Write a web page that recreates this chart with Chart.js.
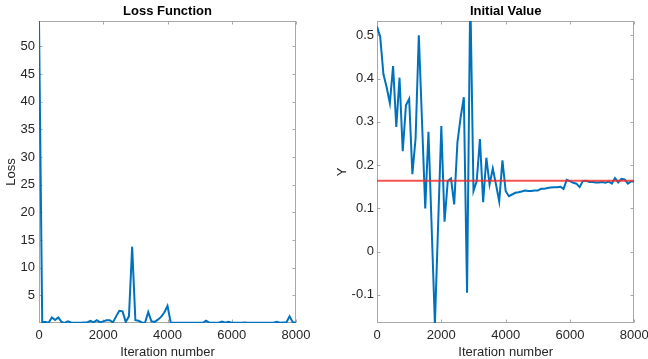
<!DOCTYPE html>
<html>
<head>
<meta charset="utf-8">
<script src="https://cdn.jsdelivr.net/npm/chart.js@4.4.0/dist/chart.umd.min.js"></script>
<style>
  html, body { margin: 0; padding: 0; background: #fff; overflow: hidden; width: 648px; height: 359px; }
  #Loss { position: absolute; left: 0; top: 0; }
  #Init { position: absolute; left: 324px; top: 0; }
</style>
</head>
<body>
<canvas id="Loss" width="324" height="359"></canvas>
<canvas id="Init" width="340" height="359"></canvas>
<script>
var iterations = [0, 100, 200, 300, 400, 500, 600, 700, 800, 900,
  1000, 1100, 1200, 1300, 1400, 1500, 1600, 1700, 1800, 1900,
  2000, 2100, 2200, 2300, 2400, 2500, 2600, 2700, 2800, 2900,
  3000, 3100, 3200, 3300, 3400, 3500, 3600, 3700, 3800, 3900,
  4000, 4100, 4200, 4300, 4400, 4500, 4600, 4700, 4800, 4900,
  5000, 5100, 5200, 5300, 5400, 5500, 5600, 5700, 5800, 5900,
  6000, 6100, 6200, 6300, 6400, 6500, 6600, 6700, 6800, 6900,
  7000, 7100, 7200, 7300, 7400, 7500, 7600, 7700, 7800, 7900, 8000];

var lossValues = [54.6, 0.2, 0.2, 0.05, 1.0, 0.55, 1.0, 0.2, 0.02, 0.3,
  0.1, 0.05, 0.05, 0.05, 0.1, 0.1, 0.4, 0.1, 0.5, 0.1,
  0.3, 0.5, 0.5, 0.1, 1.2, 2.2, 2.1, 0.2, 1.2, 13.8,
  0.5, 0.4, 0.1, 0.05, 2.0, 0.3, 0.2, 0.6, 1.1, 1.9,
  3.1, 0.1, 0.05, 0.05, 0.04, 0.04, 0.03, 0.03, 0.03, 0.03,
  0.03, 0.04, 0.4, 0.05, 0.04, 0.04, 0.04, 0.25, 0.05, 0.2,
  0.05, 0.05, 0.05, 0.06, 0.1, 0.05, 0.04, 0.04, 0.05, 0.05,
  0.04, 0.04, 0.04, 0.05, 0.2, 0.05, 0.1, 0.1, 1.2, 0.15, 0.02];

var initValues = [0.52, 0.496, 0.41, 0.38, 0.343, 0.429, 0.288, 0.402, 0.232, 0.338,
  0.353, 0.179, 0.262, 0.50, 0.30, 0.10, 0.277, 0.055, -0.168, 0.061,
  0.29, 0.069, 0.163, 0.169, 0.109, 0.252, 0.31, 0.357, -0.095, 0.60,
  0.14, 0.163, 0.26, 0.114, 0.217, 0.155, 0.192, 0.155, 0.116, 0.211,
  0.14, 0.128, 0.132, 0.136, 0.137, 0.139, 0.141, 0.14, 0.14, 0.141,
  0.141, 0.145, 0.145, 0.147, 0.148, 0.149, 0.149, 0.15, 0.145, 0.166,
  0.163, 0.159, 0.157, 0.149, 0.163, 0.164, 0.161, 0.161, 0.16, 0.16,
  0.161, 0.159, 0.162, 0.157, 0.170, 0.160, 0.168, 0.167, 0.157, 0.162, 0.162];

var referenceValue = 0.164;
var xTicks = [0, 2000, 4000, 6000, 8000];
var lossTicks = [5, 10, 15, 20, 25, 30, 35, 40, 45, 50];
var initTicks = [-0.1, 0, 0.1, 0.2, 0.3, 0.4, 0.5];

var FONT = "'Liberation Sans', Arial, Helvetica, sans-serif";
var TEXT = "#262626";

// matlab style box with inward tick marks
var axisBox = {
  id: "axisBox",
  beforeDatasetsDraw: function(chart) {
    var ctx = chart.ctx, a = chart.chartArea;
    var xs = chart.scales.x, ys = chart.scales.y;
    var l = Math.round(a.left) + 0.5, r = Math.round(a.right) - 0.5;
    var t = Math.round(a.top) + 0.5, b = Math.round(a.bottom) - 0.5;
    ctx.save();
    ctx.strokeStyle = "#a8a8a8";
    ctx.lineWidth = 1;
    ctx.strokeRect(l, t, r - l, b - t);
    ctx.beginPath();
    xs.ticks.forEach(function(tk) {
      var px = Math.round(xs.getPixelForValue(tk.value)) + 0.5;
      ctx.moveTo(px, b); ctx.lineTo(px, b - 3);
      ctx.moveTo(px, t); ctx.lineTo(px, t + 3);
    });
    ys.ticks.forEach(function(tk) {
      var py = Math.round(ys.getPixelForValue(tk.value)) + 0.5;
      ctx.moveTo(l, py); ctx.lineTo(l + 3, py);
      ctx.moveTo(r, py); ctx.lineTo(r - 3, py);
    });
    ctx.stroke();
    ctx.restore();
  }
};

function points(values) {
  return iterations.map(function(it, i) { return {x: it, y: values[i]}; });
}

function makeChart(canvasId, titleText, yLabel, datasets, yMin, yMax, yTicks, yWidth, yTitlePad, tickPad, rightPad) {
  return new Chart(document.getElementById(canvasId), {
    type: "line",
    data: {datasets: datasets},
    plugins: [axisBox],
    options: {
      responsive: false,
      animation: false,
      events: [],
      layout: {padding: {left: 0, right: rightPad, top: 0, bottom: 0}},
      plugins: {
        legend: {display: false},
        tooltip: {enabled: false},
        title: {
          display: true,
          text: titleText,
          fullSize: false,
          color: "#000",
          font: {family: FONT, size: 13, weight: "bold", lineHeight: 1.2},
          padding: {top: 4, bottom: 1.4}
        }
      },
      scales: {
        x: {
          type: "linear",
          min: 0,
          max: 8000,
          grid: {display: false, drawTicks: false},
          border: {display: false},
          afterBuildTicks: function(s) { s.ticks = xTicks.map(function(v) { return {value: v}; }); },
          afterFit: function(s) { s.height = 36; },
          ticks: {
            color: TEXT,
            font: {family: FONT, size: 13},
            padding: 5,
            maxRotation: 0,
            callback: function(v) { return String(v); }
          },
          title: {
            display: true,
            text: "Iteration number",
            color: TEXT,
            font: {family: FONT, size: 13, lineHeight: 1},
            padding: {top: 0, bottom: 0}
          }
        },
        y: {
          type: "linear",
          min: yMin,
          max: yMax,
          grid: {display: false, drawTicks: false},
          border: {display: false},
          afterBuildTicks: function(s) { s.ticks = yTicks.map(function(v) { return {value: v}; }); },
          afterFit: function(s) { s.width = yWidth; },
          ticks: {
            color: TEXT,
            font: {family: FONT, size: 13},
            padding: tickPad,
            callback: function(v) { return String(Math.round(v * 10) / 10); }
          },
          title: {
            display: true,
            text: yLabel,
            color: TEXT,
            font: {family: FONT, size: 13, lineHeight: 1.2},
            padding: {top: yTitlePad, bottom: 0}
          }
        }
      }
    }
  });
}

var Loss = makeChart("Loss", "Loss Function", "Loss", [{
  data: points(lossValues),
  borderColor: "#0072BD",
  borderWidth: 2,
  pointRadius: 0,
  tension: 0,
  clip: 0
}], 0, 54.6, lossTicks, 39, 4, 4, 28);

var Init = makeChart("Init", "Initial Value", "Y", [{
  data: [{x: 0, y: referenceValue}, {x: 8000, y: referenceValue}],
  borderColor: "rgba(245, 40, 40, 0.8)",
  borderWidth: 2,
  pointRadius: 0,
  order: 0,
  clip: 0
}, {
  data: points(initValues),
  borderColor: "#0072BD",
  borderWidth: 2,
  pointRadius: 0,
  tension: 0,
  order: 1,
  clip: 0
}], -0.165, 0.533, initTicks, 53, 11, 3, 29.7);
</script>
</body>
</html>
